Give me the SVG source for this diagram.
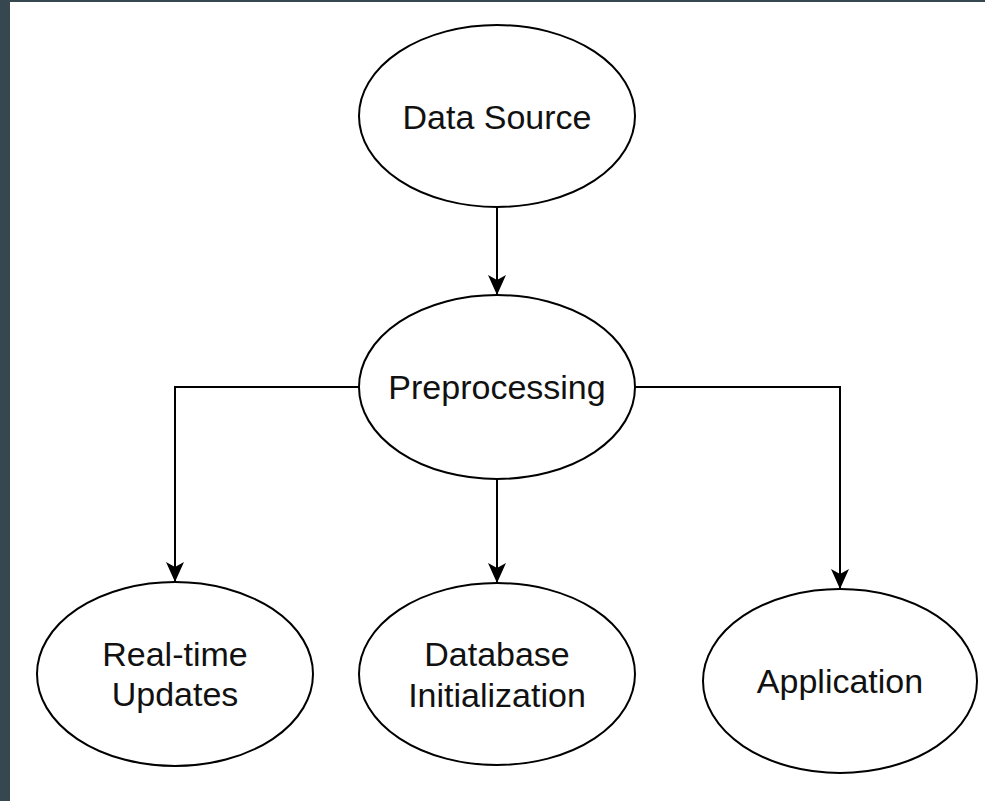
<svg xmlns="http://www.w3.org/2000/svg" width="985" height="801" viewBox="0 0 985 801">
  <style>
    .node ellipse { fill: #ffffff; stroke: #000000; stroke-width: 2; }
    .node text { font-family: "Liberation Sans", Arial, sans-serif; font-size: 34px; fill: #111111; text-anchor: middle; }
    .edge { fill: none; stroke: #000000; stroke-width: 2; marker-end: url(#arrow); }
  </style>
  <defs>
    <marker id="arrow" markerUnits="userSpaceOnUse" viewBox="-1 -10 23 20" refX="20" refY="0" markerWidth="23" markerHeight="20" orient="auto">
      <path d="M0,-9 L20,0 L0,9 L5,0 Z" fill="#000000"/>
    </marker>
  </defs>
  <rect x="0" y="0" width="985" height="801" fill="#ffffff"/>
  <rect x="0" y="0" width="10" height="801" fill="#37474f"/>
  <rect x="0" y="0" width="985" height="2" fill="#37474f"/>

  <g id="connectors">
    <path class="edge" d="M497,207 L497,295"/>
    <path class="edge" d="M359,387 L175,387 L175,582"/>
    <path class="edge" d="M497,479 L497,583"/>
    <path class="edge" d="M635,387 L840,387 L840,589"/>
  </g>

  <g id="data-source" class="node">
    <ellipse cx="497" cy="116" rx="138" ry="91"/>
    <text x="497" y="129">Data Source</text>
  </g>
  <g id="preprocessing" class="node">
    <ellipse cx="497" cy="387" rx="138" ry="92"/>
    <text x="497" y="399">Preprocessing</text>
  </g>
  <g id="realtime-updates" class="node">
    <ellipse cx="175" cy="674" rx="138" ry="92"/>
    <text x="175" y="666">Real-time</text>
    <text x="175" y="706">Updates</text>
  </g>
  <g id="database-initialization" class="node">
    <ellipse cx="497" cy="674" rx="138" ry="91"/>
    <text x="497" y="666">Database</text>
    <text x="497" y="707">Initialization</text>
  </g>
  <g id="application" class="node">
    <ellipse cx="840" cy="681" rx="137" ry="92"/>
    <text x="840" y="693">Application</text>
  </g>
</svg>
